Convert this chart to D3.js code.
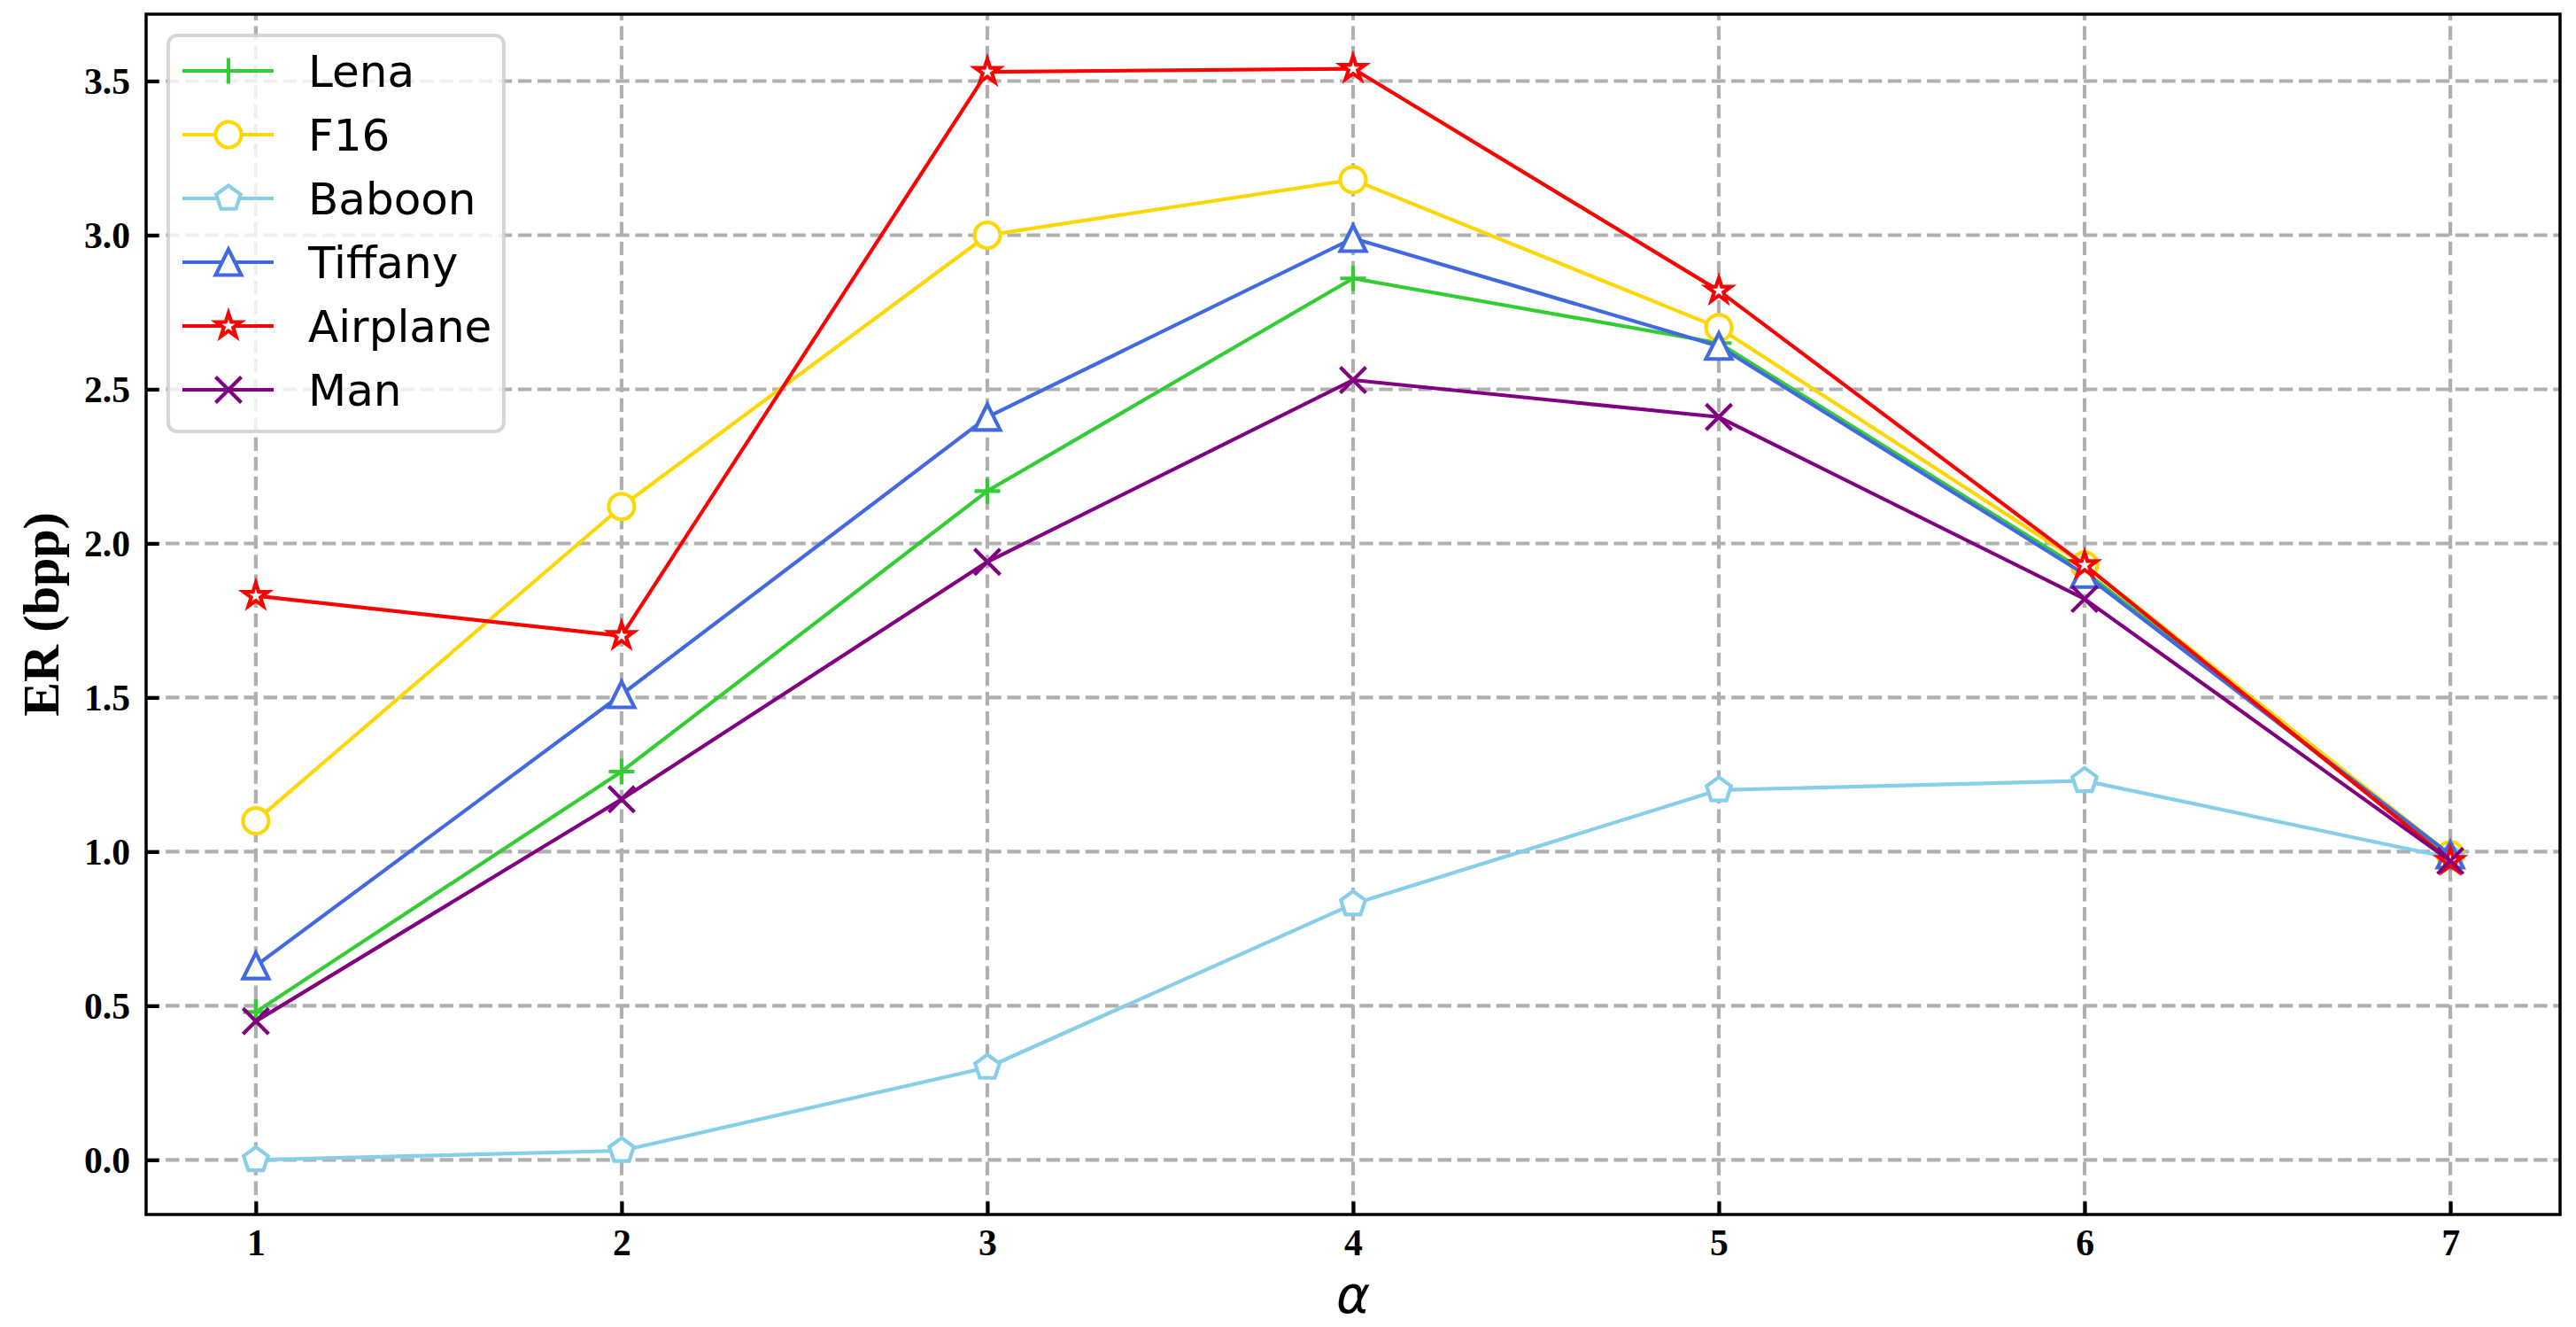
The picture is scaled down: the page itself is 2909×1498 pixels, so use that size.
<!DOCTYPE html>
<html>
<head>
<meta charset="utf-8">
<script src="https://cdn.jsdelivr.net/npm/d3@7"></script>
<style>
  html, body { margin: 0; padding: 0; background: #fff; }
  svg { display: block; }
</style>
</head>
<body>
<div id="chart"></div>
<script>
// ---------------- data ----------------
const alphaValues = [1, 2, 3, 4, 5, 6, 7];
const seriesNames = ["Lena", "F16", "Baboon", "Tiffany", "Airplane", "Man"];
const lenaValues     = [0.48, 1.26, 2.17, 2.86, 2.65, 1.91, 0.98];
const f16Values      = [1.10, 2.12, 3.00, 3.18, 2.70, 1.93, 0.99];
const baboonValues   = [0.00, 0.03, 0.30, 0.83, 1.20, 1.23, 0.98];
const tiffanyValues  = [0.63, 1.51, 2.41, 2.99, 2.64, 1.90, 0.99];
const airplaneValues = [1.83, 1.70, 3.53, 3.54, 2.82, 1.93, 0.97];
const manValues      = [0.45, 1.17, 1.94, 2.53, 2.41, 1.82, 0.97];
const xTickLabels = ["1", "2", "3", "4", "5", "6", "7"];
const yTickValues = [0.0, 0.5, 1.0, 1.5, 2.0, 2.5, 3.0, 3.5];
const xAxisLabel = "α";
const yAxisLabel = "ER (bpp)";

const seriesColors = ["#32CD32", "#FFD700", "#87CEEB", "#4169E1", "#FF0000", "#800080"];
const seriesMarkers = ["plus", "circle", "pentagon", "triangle", "star", "x"];
const seriesValues = [lenaValues, f16Values, baboonValues, tiffanyValues, airplaneValues, manValues];

// ---------------- layout ----------------
const W = 2909, H = 1498;
const plot = { left: 165, right: 2891, top: 16, bottom: 1371 };

const svg = d3.select("#chart").append("svg")
  .attr("width", W).attr("height", H)
  .attr("viewBox", `0 0 ${W} ${H}`);

// matplotlib-like 5% margins
const xMin = d3.min(alphaValues), xMax = d3.max(alphaValues);
const xPad = (xMax - xMin) * 0.05;
const allY = seriesValues.flat();
const yLo = d3.min(allY), yHi = d3.max(allY);
const yPad = (yHi - yLo) * 0.05;

const x = d3.scaleLinear().domain([xMin - xPad, xMax + xPad]).range([plot.left, plot.right]);
const y = d3.scaleLinear().domain([yLo - yPad, yHi + yPad]).range([plot.bottom, plot.top]);

const gridColor = "#b0b0b0";
const gridW = 4.17;
const dash = "15.4,6.7";

// grid
const grid = svg.append("g");
yTickValues.forEach(v => {
  grid.append("line")
    .attr("x1", plot.left).attr("x2", plot.right)
    .attr("y1", y(v)).attr("y2", y(v))
    .attr("stroke", gridColor).attr("stroke-width", gridW)
    .attr("stroke-dasharray", dash);
});
alphaValues.forEach(v => {
  grid.append("line")
    .attr("x1", x(v)).attr("x2", x(v))
    .attr("y1", plot.bottom).attr("y2", plot.top)
    .attr("stroke", gridColor).attr("stroke-width", gridW)
    .attr("stroke-dasharray", dash);
});

// marker path generators
function markerPath(type, s) {
  if (type === "plus") return `M${-s},0H${s}M0,${-s}V${s}`;
  if (type === "x") return `M${-s},${-s}L${s},${s}M${-s},${s}L${s},${-s}`;
  if (type === "triangle") return `M0,${-s}L${-s},${s}L${s},${s}Z`;
  if (type === "circle") return d3.arc()({innerRadius: 0, outerRadius: s, startAngle: 0, endAngle: 2 * Math.PI}) + "Z";
  if (type === "pentagon") {
    const pts = d3.range(5).map(k => {
      const a = -Math.PI / 2 + k * 2 * Math.PI / 5;
      return [s * Math.cos(a), s * Math.sin(a)];
    });
    return "M" + pts.map(p => p.join(",")).join("L") + "Z";
  }
  if (type === "star") {
    const pts = d3.range(10).map(k => {
      const r = k % 2 === 0 ? s : s * 0.381966;
      const a = -Math.PI / 2 + k * Math.PI / 5;
      return [r * Math.cos(a), r * Math.sin(a)];
    });
    return "M" + pts.map(p => p.join(",")).join("L") + "Z";
  }
  return "";
}
const ms = 14.5;
const lineW = 4.17;
const edgeW = 4.17;

function drawMarker(g, type, color, cx, cy) {
  const open = (type === "plus" || type === "x");
  g.append("path")
    .attr("d", markerPath(type, ms))
    .attr("transform", `translate(${cx},${cy})`)
    .attr("fill", open ? "none" : "#ffffff")
    .attr("stroke", color)
    .attr("stroke-width", edgeW)
    .attr("stroke-linejoin", "miter")
    .attr("stroke-linecap", "butt");
}

// plot clip
svg.append("clipPath").attr("id", "clip")
  .append("rect").attr("x", plot.left).attr("y", plot.top)
  .attr("width", plot.right - plot.left).attr("height", plot.bottom - plot.top);

const lineGen = d3.line().x((d, i) => x(alphaValues[i])).y(d => y(d));
const dataG = svg.append("g");
seriesValues.forEach((vals, si) => {
  const g = dataG.append("g");
  g.append("path")
    .attr("d", lineGen(vals))
    .attr("fill", "none")
    .attr("stroke", seriesColors[si])
    .attr("stroke-width", lineW)
    .attr("stroke-linejoin", "round")
    .attr("stroke-linecap", "square");
  vals.forEach((v, i) => drawMarker(g, seriesMarkers[si], seriesColors[si], x(alphaValues[i]), y(v)));
});

// spines
const spineW = 3.5;
svg.append("rect")
  .attr("x", plot.left).attr("y", plot.top)
  .attr("width", plot.right - plot.left).attr("height", plot.bottom - plot.top)
  .attr("fill", "none").attr("stroke", "#000").attr("stroke-width", spineW);

// axes with d3 axis generators (ticks inward)
const tickFont = "'Liberation Serif', 'Times New Roman', serif";
const xAxis = d3.axisBottom(x).tickValues(alphaValues)
  .tickFormat((d, i) => xTickLabels[i]).tickSizeInner(-14.6).tickSizeOuter(0).tickPadding(0);
const gx = svg.append("g").attr("transform", `translate(0,${plot.bottom})`).call(xAxis);
gx.select(".domain").remove();
gx.selectAll(".tick line").attr("stroke", "#000").attr("stroke-width", 4.17);
gx.selectAll(".tick text")
  .attr("y", 46).attr("dy", null)
  .attr("font-family", tickFont).attr("font-weight", "bold").attr("font-size", 41.7)
  .attr("fill", "#000");

const yAxis = d3.axisLeft(y).tickValues(yTickValues)
  .tickFormat(d3.format(".1f")).tickSizeInner(-14.6).tickSizeOuter(0).tickPadding(0);
const gy = svg.append("g").attr("transform", `translate(${plot.left},0)`).call(yAxis);
gy.select(".domain").remove();
gy.selectAll(".tick line").attr("stroke", "#000").attr("stroke-width", 4.17);
gy.selectAll(".tick text")
  .attr("x", -18).attr("dy", 14)
  .attr("font-family", tickFont).attr("font-weight", "bold").attr("font-size", 41.7)
  .attr("fill", "#000");

// axis labels
svg.append("text")
  .attr("x", (plot.left + plot.right) / 2).attr("y", 1482)
  .attr("text-anchor", "middle")
  .attr("font-family", "'DejaVu Sans', sans-serif").attr("font-style", "italic")
  .attr("font-size", 58).attr("fill", "#000")
  .text(xAxisLabel);

svg.append("text")
  .attr("transform", `translate(66,${(plot.top + plot.bottom) / 2}) rotate(-90)`)
  .attr("text-anchor", "middle")
  .attr("font-family", tickFont).attr("font-weight", "bold")
  .attr("font-size", 58).attr("fill", "#000")
  .text(yAxisLabel);

// legend
const leg = svg.append("g");
leg.append("rect")
  .attr("x", 190).attr("y", 40).attr("width", 379).attr("height", 447)
  .attr("rx", 10).attr("ry", 10)
  .attr("fill", "rgba(255,255,255,0.8)")
  .attr("stroke", "rgba(204,204,204,0.8)").attr("stroke-width", 4.17);
seriesNames.forEach((name, i) => {
  const cy = 80 + i * 72;
  const g = leg.append("g");
  g.append("line")
    .attr("x1", 206).attr("x2", 309).attr("y1", cy).attr("y2", cy)
    .attr("stroke", seriesColors[i]).attr("stroke-width", lineW);
  drawMarker(g, seriesMarkers[i], seriesColors[i], 258, cy);
  g.append("text")
    .attr("x", 348).attr("y", cy + 18)
    .attr("font-family", "'DejaVu Sans', sans-serif").attr("font-size", 50)
    .attr("fill", "#000")
    .text(name);
});
</script>
</body>
</html>
